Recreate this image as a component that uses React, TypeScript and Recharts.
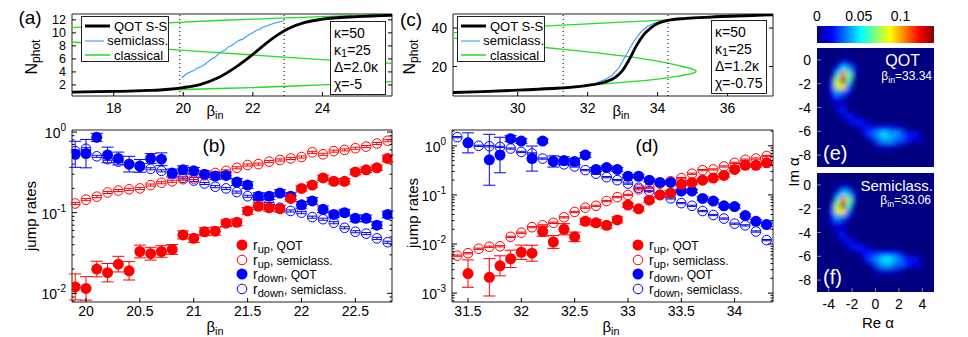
import React from 'react';
import {
  ComposedChart,
  Line,
  XAxis,
  YAxis,
  ReferenceLine,
  ReferenceArea,
  ScatterChart,
  Scatter,
  ErrorBar,
  BarChart,
  Bar,
} from 'recharts';

const FONT = '"Liberation Sans", Arial, Helvetica, sans-serif';
const RED = '#ff0000';
const BLUE = '#0000ff';
const GREEN = '#22dd22';
const SEMI = '#3399ff';

// ---- panel (a): photon number vs beta_in, kappa=50, Delta=2.0kappa
const A_QOT_X = [16.8, 18, 19, 19.5, 20, 20.5, 21, 21.5, 22, 22.5, 23, 23.5, 24, 25, 26];
const A_QOT_Y = [0.9, 1.0, 1.15, 1.3, 1.6, 2.1, 3.1, 4.7, 6.7, 8.9, 10.6, 11.6, 12.1, 12.5, 12.7];
const A_SEMI_X = [19.95, 20.0, 20.1, 20.2, 20.3, 20.4, 20.5, 20.6, 20.7, 20.8, 20.9, 21.0, 21.1, 21.2, 21.3, 21.4, 21.5, 21.6, 21.7, 21.8, 21.9, 22.0, 22.1, 22.2, 22.3, 22.4, 22.5, 22.6, 22.7, 22.8, 22.9];
const A_SEMI_Y = [3.1, 3.3, 3.75, 4.0, 4.2, 4.55, 4.8, 5.1, 5.5, 5.95, 6.2, 6.7, 7.1, 7.35, 7.85, 8.1, 8.5, 8.85, 9.0, 9.4, 9.75, 10.0, 10.4, 10.55, 10.9, 11.05, 11.3, 11.45, 11.6, 11.75, 11.85];
const A_CL_X = [16.8, 18, 19, 20, 21, 22, 23, 24, 25, 26];
const A_CL_UP = [10.8, 11.15, 11.4, 11.65, 11.9, 12.1, 12.3, 12.5, 12.7, 12.85];
const A_CL_MID = [8.6, 8.1, 7.7, 7.3, 6.95, 6.6, 6.25, 5.9, 5.6, 5.3];
const A_CL_LOW = [0.95, 1.1, 1.2, 1.3, 1.45, 1.6, 1.8, 2.0, 2.25, 2.5];
const A_DOTTED = [19.9, 22.9];

// ---- panel (c): kappa=50, Delta=1.2kappa
const C_QOT_X = [28.15, 29, 30, 31, 31.5, 32, 32.5, 32.8, 33.0, 33.2, 33.4, 33.6, 33.8, 34.0, 34.3, 34.8, 35.5, 36.5, 37.3];
const C_QOT_Y = [6.5, 7.0, 7.7, 8.6, 9.2, 10.2, 12.0, 14.5, 18, 24, 31, 36.5, 40, 42.3, 44, 45, 45.7, 46.4, 46.9];
const C_SEMI_X = [31.3, 31.8, 32.2, 32.5, 32.7, 32.9, 33.1, 33.3, 33.5, 33.7, 33.9, 34.1, 34.3];
const C_SEMI_Y = [9.0, 9.8, 11.2, 13.2, 15.5, 19.5, 26, 32.5, 37.5, 40.8, 42.5, 43.5, 44.2];
const C_CL_UP_X = [28.15, 29, 30, 31, 32, 33, 34, 35, 36, 37.3];
const C_CL_UP_Y = [37.5, 39.0, 40.3, 41.3, 42.2, 43.1, 44.0, 44.9, 45.8, 46.9];
// middle (unstable) branch through the turning point back to the lower branch
const C_CL_S_X = [28.15, 29, 30, 31, 32, 33, 34, 34.6, 35.0, 35.1, 35.0, 34.6, 34, 33, 32, 31, 30, 29, 28.15];
const C_CL_S_Y = [34.8, 33.0, 31.3, 29.5, 27.6, 25.5, 22.8, 20.5, 18.7, 17.5, 16.4, 15.0, 13.5, 11.8, 10.3, 9.0, 7.9, 7.0, 6.3];
const C_DOTTED = [31.3, 34.3];

// ---- panel (b): jump rates
const B_X = [19.9, 20.0, 20.1, 20.2, 20.3, 20.4, 20.5, 20.6, 20.7, 20.8, 20.9, 21.0, 21.1, 21.2, 21.3, 21.4, 21.5, 21.6, 21.7, 21.8, 21.9, 22.0, 22.1, 22.2, 22.3, 22.4, 22.5, 22.6, 22.7, 22.8];
const B_UP_QOT = [0.012, 0.0115, 0.02, 0.018, 0.023, 0.019, 0.033, 0.031, 0.033, 0.035, 0.053, 0.048, 0.058, 0.059, 0.074, 0.076, 0.105, 0.12, 0.115, 0.112, 0.15, 0.2, 0.22, 0.27, 0.245, 0.245, 0.32, 0.34, 0.36, 0.47];
const B_UP_QOT_ERR = [1.45, 1.4, 1.25, 1.3, 1.25, 1.3, 1.2, 1.2, 1.18, 1.15, 1.12, 1.12, 1.12, 1.12, 1.1, 1.1, 1.1, 1.1, 1.1, 1.1, 1.08, 1.08, 1.08, 1.08, 1.08, 1.08, 1.08, 1.08, 1.08, 1.1];
const B_UP_SEMI = [0.13, 0.145, 0.158, 0.178, 0.188, 0.195, 0.2, 0.22, 0.235, 0.245, 0.26, 0.265, 0.29, 0.31, 0.33, 0.36, 0.39, 0.4, 0.43, 0.45, 0.47, 0.49, 0.56, 0.53, 0.58, 0.6, 0.63, 0.66, 0.72, 0.78];
const B_DOWN_QOT = [0.53, 0.54, 0.86, 0.52, 0.47, 0.4, 0.38, 0.47, 0.46, 0.31, 0.34, 0.33, 0.3, 0.285, 0.29, 0.24, 0.22, 0.16, 0.16, 0.175, 0.16, 0.125, 0.14, 0.11, 0.095, 0.1, 0.085, 0.085, 0.07, 0.095];
const B_DOWN_QOT_ERR = [1.45, 1.5, 1.12, 1.25, 1.2, 1.25, 1.2, 1.15, 1.2, 1.12, 1.12, 1.1, 1.1, 1.1, 1.1, 1.1, 1.1, 1.1, 1.1, 1.1, 1.1, 1.1, 1.1, 1.1, 1.1, 1.1, 1.1, 1.1, 1.1, 1.1];
const B_DOWN_SEMI = [0.58, 0.62, 0.5, 0.46, 0.43, 0.4, 0.37, 0.35, 0.33, 0.3, 0.27, 0.25, 0.23, 0.21, 0.2, 0.18, 0.16, 0.145, 0.13, 0.115, 0.105, 0.1, 0.088, 0.083, 0.075, 0.065, 0.058, 0.055, 0.048, 0.043];

// ---- panel (d): jump rates
const D_X = [31.4, 31.5, 31.6, 31.7, 31.8, 31.9, 32.0, 32.1, 32.2, 32.3, 32.4, 32.5, 32.6, 32.7, 32.8, 32.9, 33.0, 33.1, 33.2, 33.3, 33.4, 33.5, 33.6, 33.7, 33.8, 33.9, 34.0, 34.1, 34.2, 34.3];
const D_UP_QOT = [null, 0.0025, null, 0.0021, 0.0036, 0.005, 0.0068, 0.0065, 0.018, 0.011, 0.02, 0.014, 0.029, 0.027, 0.024, 0.031, 0.062, 0.052, 0.078, 0.1, 0.11, 0.165, 0.18, 0.2, 0.22, 0.25, 0.33, 0.4, 0.4, 0.45];
const D_UP_QOT_ERR = [1, 1.9, 1, 2.4, 1.6, 1.5, 1.4, 1.45, 1.25, 1.35, 1.3, 1.25, 1.15, 1.15, 1.15, 1.15, 1.1, 1.1, 1.1, 1.1, 1.1, 1.08, 1.08, 1.08, 1.08, 1.08, 1.08, 1.08, 1.08, 1.08];
const D_UP_SEMI = [0.0058, 0.0065, 0.008, 0.0088, 0.009, 0.014, 0.017, 0.022, 0.024, 0.027, 0.035, 0.045, 0.055, 0.06, 0.075, 0.09, 0.1, 0.13, 0.14, 0.17, 0.19, 0.22, 0.27, 0.32, 0.33, 0.38, 0.45, 0.52, 0.55, 0.62];
const D_DOWN_QOT = [null, 1.15, null, 0.52, 0.65, 1.4, 1.25, 0.55, 1.25, 0.48, 0.5, 0.48, 0.65, 0.33, 0.36, 0.33, 0.24, 0.24, 0.2, 0.18, 0.18, 0.12, 0.12, 0.085, 0.075, 0.06, 0.058, 0.038, 0.029, 0.025];
const D_DOWN_QOT_ERR = [1, 1.6, 1, 3.3, 2.3, 1.15, 1.12, 1.8, 1.1, 1.3, 1.2, 1.15, 1.12, 1.1, 1.1, 1.1, 1.08, 1.08, 1.08, 1.08, 1.08, 1.08, 1.08, 1.08, 1.08, 1.08, 1.08, 1.08, 1.08, 1.08];
const D_DOWN_SEMI = [1.5, 1.15, 1.0, 0.98, 0.95, 0.88, 0.75, 0.7, 0.55, 0.5, 0.42, 0.38, 0.32, 0.27, 0.23, 0.2, 0.17, 0.14, 0.12, 0.1, 0.085, 0.068, 0.06, 0.047, 0.039, 0.033, 0.026, 0.024, 0.018, 0.012];
const SEMI_ERR = 1.03;

const B_TICKS_X = [20, 20.5, 21, 21.5, 22, 22.5];
const D_TICKS_X = [31.5, 32, 32.5, 33, 33.5, 34];
const B_TICKS_Y = [0.008, 0.009, 0.01, 0.02, 0.03, 0.04, 0.05, 0.06, 0.07, 0.08, 0.09, 0.1, 0.2, 0.3, 0.4, 0.5, 0.6, 0.7, 0.8, 0.9, 1];
const D_TICKS_Y = [0.0007, 0.0008, 0.0009, 0.001, 0.002, 0.003, 0.004, 0.005, 0.006, 0.007, 0.008, 0.009, 0.01, 0.02, 0.03, 0.04, 0.05, 0.06, 0.07, 0.08, 0.09, 0.1, 0.2, 0.3, 0.4, 0.5, 0.6, 0.7, 0.8, 0.9, 1, 2];

// ---- panels (e), (f): phase-space density, one char per 0.5x0.5 cell, value = char(base36)/100
const RE_CENTERS = [-4.75, -4.25, -3.75, -3.25, -2.75, -2.25, -1.75, -1.25, -0.75, -0.25, 0.25, 0.75, 1.25, 1.75, 2.25, 2.75, 3.25, 3.75, 4.25, 4.75];
const IM_CENTERS = [0.75, 0.25, -0.25, -0.75, -1.25, -1.75, -2.25, -2.75, -3.25, -3.75, -4.25, -4.75, -5.25, -5.75, -6.25, -6.75, -7.25, -7.75, -8.25, -8.75];
const MAP_QOT = [
  '00000000000000000000',
  '00000000000000000000',
  '00002100000000000000',
  '00025410000000000000',
  '0005b710000000000000',
  '0018e600000000000000',
  '00289300000000000000',
  '00143100000000000000',
  '00121000000000000000',
  '00011000000000000000',
  '00012000000000000000',
  '00001210000000000000',
  '00000122100000000000',
  '00000001222221100000',
  '00000000234544322100',
  '00000000013443321100',
  '00000000001111000000',
  '00000000000000000000',
  '00000000000000000000',
  '00000000000000000000',
];
const MAP_SEMI = [
  '00000000000000000000',
  '00000000000000000000',
  '00002100000000000000',
  '00025410000000000000',
  '0005b710000000000000',
  '0018e600000000000000',
  '00289300000000000000',
  '00143100000000000000',
  '00121000000000000000',
  '00011000000000000000',
  '00012000000000000000',
  '00001210000000000000',
  '00000122100000000000',
  '00000001222222100000',
  '00000000234554322100',
  '00000000013443321100',
  '00000000001111000000',
  '00000000000000000000',
  '00000000000000000000',
  '00000000000000000000',
];
const CBAR_MAX = 0.14;
const CBAR_TICKS = [0, 0.05, 0.1];
const MAP_TICKS_Y = [0, -2, -4, -6, -8];
const MAP_TICKS_X = [-4, -2, 0, 2, 4];

type Pt = { x: number; y: number };
const toPts = (xs: number[], ys: number[]): Pt[] => xs.map((x, i) => ({ x, y: ys[i] }));
const withErr = (xs: number[], ys: (number | null)[], f: number[] | number) =>
  xs
    .map((x, i) => ({ x, y: ys[i], f: Array.isArray(f) ? f[i] : f }))
    .filter((p) => p.y != null)
    .map((p) => ({ x: p.x, y: p.y as number, err: [(p.y as number) - (p.y as number) / p.f, (p.y as number) * p.f - (p.y as number)] }));

const jet = (t: number) => {
  const c = (v: number) => Math.round(255 * Math.max(0, Math.min(1, v)));
  return `rgb(${c(1.5 - Math.abs(4 * t - 3))},${c(1.5 - Math.abs(4 * t - 2))},${c(1.5 - Math.abs(4 * t - 1))})`;
};
const cells = (rows: string[]) =>
  rows.flatMap((row, j) =>
    row.split('').map((ch, i) => ({ x: RE_CENTERS[i], y: IM_CENTERS[j], v: parseInt(ch, 36) / 100 })),
  ).filter((c) => c.v > 0);

// ---- ticks (matlab style: pointing inward)
const fmtNum = (v: number) => String(v);
const isDecade = (v: number) => Math.abs(Math.log10(v) - Math.round(Math.log10(v))) < 1e-6;

const bottomTick = (tm: number, fmt: ((v: number) => string) | null, color = '#000') => (p: any) => (
  <g>
    <line x1={p.x} x2={p.x} y1={p.y - tm} y2={p.y - tm - 4} stroke={color} />
    {fmt && (
      <text x={p.x} y={p.y + 11} textAnchor="middle" fontSize={14} fontFamily={FONT} fill="#000">
        {fmt(p.payload.value)}
      </text>
    )}
  </g>
);
const topTick = (p: any) => <line x1={p.x} x2={p.x} y1={p.y} y2={p.y + 4} stroke="#000" />;
const leftTick = (tm: number, fmt: (v: number) => string, color = '#000', fs = 14) => (p: any) => (
  <g>
    <line x1={p.x + tm} x2={p.x + tm + 4} y1={p.y} y2={p.y} stroke={color} />
    <text x={p.x} y={p.y + fs * 0.36} textAnchor="end" fontSize={fs} fontFamily={FONT} fill="#000">
      {fmt(p.payload.value)}
    </text>
  </g>
);
const rightTick = (p: any) => <line x1={p.x} x2={p.x - 4} y1={p.y} y2={p.y} stroke="#000" />;
const logLeftTick = (tm: number) => (p: any) => {
  const v = p.payload.value;
  const dec = isDecade(v);
  return (
    <g>
      <line x1={p.x + tm} x2={p.x + tm + (dec ? 5 : 2.5)} y1={p.y} y2={p.y} stroke="#000" />
      {dec && (
        <text x={p.x} y={p.y + 6} textAnchor="end" fontSize={14} fontFamily={FONT} fill="#000">
          10<tspan dy={-7} fontSize={10}>{Math.round(Math.log10(v))}</tspan>
        </text>
      )}
    </g>
  );
};
const logRightTick = (p: any) => (
  <line x1={p.x} x2={p.x - (isDecade(p.payload.value) ? 5 : 2.5)} y1={p.y} y2={p.y} stroke="#000" />
);

// ---- top panels
type TopProps = {
  left: number; yAxisW: number; marginRight: number;
  xDomain: [number, number]; yDomain: [number, number];
  xTicks: number[]; yTicks: number[]; yTickSize: number;
  qot: Pt[]; semi: Pt[]; classical: { pts: Pt[]; type: 'linear' | 'natural' }[]; dotted: number[];
};

const TopPanel = ({ left, yAxisW, marginRight, xDomain, yDomain, xTicks, yTicks, yTickSize, qot, semi, classical, dotted }: TopProps) => (
  <div style={{ position: 'absolute', left, top: 0 }}>
    <ComposedChart width={400} height={120} margin={{ top: 13, right: marginRight, bottom: 0, left: 0 }}>
      <XAxis xAxisId="b" type="number" dataKey="x" domain={xDomain} allowDataOverflow ticks={xTicks} interval={0}
        tickSize={0} tickMargin={6} axisLine={false} tickLine={false} height={24} tick={bottomTick(6, fmtNum)} />
      <XAxis xAxisId="t" orientation="top" type="number" domain={xDomain} allowDataOverflow ticks={xTicks} interval={0}
        tickSize={0} tickMargin={0} axisLine={false} tickLine={false} height={1} tick={topTick} />
      <YAxis yAxisId="l" type="number" domain={yDomain} allowDataOverflow ticks={yTicks} interval={0}
        tickSize={0} tickMargin={6} axisLine={false} tickLine={false} width={yAxisW} tick={leftTick(6, fmtNum, '#000', yTickSize)} />
      <YAxis yAxisId="r" orientation="right" type="number" domain={yDomain} allowDataOverflow ticks={yTicks} interval={0}
        tickSize={0} tickMargin={0} axisLine={false} tickLine={false} width={1} tick={rightTick} />
      {classical.map((c, i) => (
        <Line key={`cl-${i}`} xAxisId="b" yAxisId="l" data={c.pts} dataKey="y" type={c.type} stroke={GREEN}
          strokeWidth={1.3} dot={false} isAnimationActive={false} />
      ))}
      <Line xAxisId="b" yAxisId="l" data={semi} dataKey="y" type="linear" stroke={SEMI} strokeWidth={1.1} dot={false} isAnimationActive={false} />
      <Line xAxisId="b" yAxisId="l" data={qot} dataKey="y" type="monotone" stroke="#000" strokeWidth={2.8} dot={false} isAnimationActive={false} />
      {dotted.map((d) => (
        <ReferenceLine key={`dl-${d}`} xAxisId="b" yAxisId="l" x={d} stroke="#000" strokeDasharray="1 3" />
      ))}
      <ReferenceArea xAxisId="b" yAxisId="l" x1={xDomain[0]} x2={xDomain[1]} y1={yDomain[0]} y2={yDomain[1]}
        fill="none" stroke="#222" strokeWidth={1} ifOverflow="visible" />
    </ComposedChart>
  </div>
);

// ---- bottom panels
type RateSeries = { key: string; data: { x: number; y: number; err: number[] }[]; color: string; filled: boolean };
type RateProps = {
  left: number; yAxisW: number; marginRight: number;
  xDomain: [number, number]; yDomain: [number, number];
  xTicks: number[]; yTicks: number[]; series: RateSeries[];
};

const filledDot = (color: string) => (p: any) => <circle cx={p.cx} cy={p.cy} r={5.5} fill={color} stroke="none" />;
const openDot = (color: string) => (p: any) => <circle cx={p.cx} cy={p.cy} r={4.8} fill="none" stroke={color} strokeWidth={1} />;

const RatePanel = ({ left, yAxisW, marginRight, xDomain, yDomain, xTicks, yTicks, series }: RateProps) => (
  <div style={{ position: 'absolute', left, top: 120 }}>
    <ScatterChart width={400} height={217} margin={{ top: 9, right: marginRight, bottom: 0, left: 0 }}>
      <XAxis xAxisId="b" type="number" dataKey="x" domain={xDomain} allowDataOverflow ticks={xTicks} interval={0}
        tickSize={0} tickMargin={3} axisLine={false} tickLine={false} height={35} tick={bottomTick(3, fmtNum)} />
      <XAxis xAxisId="t" orientation="top" type="number" domain={xDomain} allowDataOverflow ticks={xTicks} interval={0}
        tickSize={0} tickMargin={0} axisLine={false} tickLine={false} height={1} tick={topTick} />
      <YAxis yAxisId="l" type="number" dataKey="y" scale="log" domain={yDomain} allowDataOverflow ticks={yTicks} interval={0}
        tickSize={0} tickMargin={6} axisLine={false} tickLine={false} width={yAxisW} tick={logLeftTick(6)} />
      <YAxis yAxisId="r" orientation="right" type="number" scale="log" domain={yDomain} allowDataOverflow ticks={yTicks} interval={0}
        tickSize={0} tickMargin={0} axisLine={false} tickLine={false} width={1} tick={logRightTick} />
      {series.map((s) => (
        <Scatter key={s.key} xAxisId="b" yAxisId="l" data={s.data} shape={s.filled ? filledDot(s.color) : openDot(s.color)} isAnimationActive={false}>
          <ErrorBar dataKey="err" direction="y" width={s.filled ? 6 : 4.5} stroke={s.color} strokeWidth={1} />
        </Scatter>
      ))}
      <ReferenceArea xAxisId="b" yAxisId="l" x1={xDomain[0]} x2={xDomain[1]} y1={yDomain[0]} y2={yDomain[1]}
        fill="none" stroke="#222" strokeWidth={1} ifOverflow="visible" />
    </ScatterChart>
  </div>
);

// ---- phase-space maps
const CELL_W = 117 / 20 + 0.5;
const CELL_H = 119 / 20 + 0.5;
const cellShape = (p: any) => (
  <rect x={p.cx - CELL_W / 2} y={p.cy - CELL_H / 2} width={CELL_W} height={CELL_H} fill={jet(p.payload.v / CBAR_MAX)} />
);

const MapPanel = ({ id, top, height, rows, showX }: { id: string; top: number; height: number; rows: string[]; showX: boolean }) => (
  <div style={{ position: 'absolute', left: 780, top }}>
    <ScatterChart width={160} height={height} margin={{ top: 8, right: 6, bottom: 0, left: 0 }}>
      <defs>
        <filter id={`blur-${id}`} x="-20%" y="-20%" width="140%" height="140%">
          <feGaussianBlur stdDeviation={2.9} />
        </filter>
      </defs>
      <XAxis type="number" dataKey="x" domain={[-5, 5]} allowDataOverflow ticks={MAP_TICKS_X} interval={0} hide={!showX}
        tickSize={0} tickMargin={6} axisLine={false} tickLine={false} height={showX ? 23 : 0} tick={bottomTick(6, fmtNum, '#888')} />
      <YAxis type="number" dataKey="y" domain={[-9, 1]} allowDataOverflow ticks={MAP_TICKS_Y} interval={0}
        tickSize={0} tickMargin={6} axisLine={false} tickLine={false} width={37} tick={leftTick(6, fmtNum, '#888')} />
      <ReferenceArea x1={-5} x2={5} y1={-9} y2={1} fill={jet(0)} fillOpacity={1} stroke="none" ifOverflow="visible" />
      <Scatter className={`heat-${id}`} data={cells(rows)} shape={cellShape} isAnimationActive={false} />
    </ScatterChart>
  </div>
);

const JET_STOPS = [0, 0.125, 0.375, 0.625, 0.875, 1];

const ColorBar = () => (
  <div style={{ position: 'absolute', left: 780, top: 0 }}>
    <BarChart width={160} height={45} layout="vertical" data={[{ name: 'c', v: CBAR_MAX }]}
      margin={{ top: 25, right: 6, bottom: 2, left: 37 }} barCategoryGap={0}>
      <defs>
        <linearGradient id="jetGrad" x1="0" y1="0" x2="1" y2="0">
          {JET_STOPS.map((s) => (
            <stop key={`js-${s}`} offset={s} stopColor={jet(s)} />
          ))}
        </linearGradient>
      </defs>
      <XAxis type="number" orientation="top" domain={[0, CBAR_MAX]} ticks={CBAR_TICKS} interval={0}
        tickSize={0} tickMargin={3} axisLine={false} tickLine={false} height={1}
        tick={(p: any) => (
          <text x={p.x} y={p.y - 2} textAnchor="middle" fontSize={14} fontFamily={FONT} fill="#000">{String(p.payload.value)}</text>
        )} />
      <YAxis type="category" dataKey="name" hide />
      <Bar dataKey="v" fill="url(#jetGrad)" isAnimationActive={false} />
    </BarChart>
  </div>
);

// ---- overlay text helpers
const abs = (x: number, y: number, extra: React.CSSProperties = {}): React.CSSProperties => ({
  position: 'absolute', left: x, top: y, whiteSpace: 'nowrap', lineHeight: 1, ...extra,
});
const Centered = ({ x, y, size, rotate, color = '#000', children }: { x: number; y: number; size: number; rotate?: boolean; color?: string; children: React.ReactNode }) => (
  <div style={abs(x, y, { fontSize: size, color, transform: `translate(-50%,-50%)${rotate ? ' rotate(-90deg)' : ''}` })}>{children}</div>
);
const BetaIn = () => (
  <span>β<sub style={{ fontSize: '0.72em', verticalAlign: '-0.35em' }}>in</sub></span>
);

const LineLegend = ({ x, y }: { x: number; y: number }) => {
  const rows = [
    { label: 'QOT S-S', color: '#000', w: 3 },
    { label: 'semiclass.', color: SEMI, w: 1.1 },
    { label: 'classical', color: GREEN, w: 1.5 },
  ];
  return (
    <div style={abs(x, y, { width: 88, height: 46, border: '1px solid #222', background: '#fff', boxSizing: 'border-box', padding: '2px 0 0 3px' })}>
      {rows.map((r) => (
        <div key={`ll-${r.label}`} style={{ display: 'flex', alignItems: 'center', height: 14.5, fontSize: 13 }}>
          <svg width={26} height={8}><line x1={0} x2={25} y1={4} y2={4} stroke={r.color} strokeWidth={r.w} /></svg>
          <span style={{ marginLeft: 3 }}>{r.label}</span>
        </div>
      ))}
    </div>
  );
};

const ParamBox = ({ x, y, w, delta, chi }: { x: number; y: number; w: number; delta: string; chi: string }) => (
  <div style={abs(x, y, { width: w, height: 74, border: '1px solid #222', background: '#fff', boxSizing: 'border-box', padding: '4px 0 0 3px', fontSize: 14 })}>
    <div style={{ height: 17 }}>κ=50</div>
    <div style={{ height: 17 }}>κ<sub style={{ fontSize: 11, verticalAlign: '-0.15em', lineHeight: 1 }}>1</sub>=25</div>
    <div style={{ height: 17 }}>Δ={delta}κ</div>
    <div style={{ height: 17 }}>χ={chi}</div>
  </div>
);

const RateLegend = ({ x, y }: { x: number; y: number }) => {
  const rows = [
    { sub: 'up', tail: 'QOT', color: RED, filled: true },
    { sub: 'up', tail: 'semiclass.', color: RED, filled: false },
    { sub: 'down', tail: 'QOT', color: BLUE, filled: true },
    { sub: 'down', tail: 'semiclass.', color: BLUE, filled: false },
  ];
  return (
    <div style={abs(x, y)}>
      {rows.map((r) => (
        <div key={`rl-${r.sub}-${r.tail}`} style={{ display: 'flex', alignItems: 'center', height: 14.5 }}>
          <svg width={12} height={12}>
            <circle cx={6} cy={6} r={r.filled ? 5.5 : 4.8} fill={r.filled ? r.color : 'none'} stroke={r.filled ? 'none' : r.color} />
          </svg>
          <span style={{ marginLeft: 5, fontSize: 14 }}>
            r<sub style={{ fontSize: 11, verticalAlign: '-0.3em', lineHeight: 0 }}>{r.sub}</sub>
            <span style={{ fontSize: 12 }}>, {r.tail}</span>
          </span>
        </div>
      ))}
    </div>
  );
};

export default function App() {
  const aClassical = [
    { pts: toPts(A_CL_X, A_CL_UP), type: 'linear' as const },
    { pts: toPts(A_CL_X, A_CL_MID), type: 'linear' as const },
    { pts: toPts(A_CL_X, A_CL_LOW), type: 'linear' as const },
  ];
  const cClassical = [
    { pts: toPts(C_CL_UP_X, C_CL_UP_Y), type: 'linear' as const },
    { pts: toPts(C_CL_S_X, C_CL_S_Y), type: 'natural' as const },
  ];
  const bSeries: RateSeries[] = [
    { key: 'bds', data: withErr(B_X, B_DOWN_SEMI, SEMI_ERR), color: BLUE, filled: false },
    { key: 'bus', data: withErr(B_X, B_UP_SEMI, SEMI_ERR), color: RED, filled: false },
    { key: 'bdq', data: withErr(B_X, B_DOWN_QOT, B_DOWN_QOT_ERR), color: BLUE, filled: true },
    { key: 'buq', data: withErr(B_X, B_UP_QOT, B_UP_QOT_ERR), color: RED, filled: true },
  ];
  const dSeries: RateSeries[] = [
    { key: 'dds', data: withErr(D_X, D_DOWN_SEMI, SEMI_ERR), color: BLUE, filled: false },
    { key: 'dus', data: withErr(D_X, D_UP_SEMI, SEMI_ERR), color: RED, filled: false },
    { key: 'ddq', data: withErr(D_X, D_DOWN_QOT, D_DOWN_QOT_ERR), color: BLUE, filled: true },
    { key: 'duq', data: withErr(D_X, D_UP_QOT, D_UP_QOT_ERR), color: RED, filled: true },
  ];

  return (
    <div style={{ position: 'absolute', left: 0, top: 0, width: 968, height: 337, background: '#fff', overflow: 'hidden', fontFamily: FONT, color: '#000' }}>
      <style>{'.heat-e { filter: url(#blur-e); } .heat-f { filter: url(#blur-f); }'}</style>

      <TopPanel left={0} yAxisW={72} marginRight={7} xDomain={[16.8, 26]} yDomain={[0.3, 12.9]}
        xTicks={[18, 20, 22, 24]} yTicks={[2, 4, 6, 8, 10, 12]} yTickSize={12.5}
        qot={toPts(A_QOT_X, A_QOT_Y)} semi={toPts(A_SEMI_X, A_SEMI_Y)} classical={aClassical} dotted={A_DOTTED} />
      <TopPanel left={380} yAxisW={73} marginRight={6} xDomain={[28.15, 37.3]} yDomain={[4.7, 47.3]}
        xTicks={[30, 32, 34, 36]} yTicks={[20, 40]} yTickSize={14}
        qot={toPts(C_QOT_X, C_QOT_Y)} semi={toPts(C_SEMI_X, C_SEMI_Y)} classical={cClassical} dotted={C_DOTTED} />

      <RatePanel left={0} yAxisW={72} marginRight={7} xDomain={[19.87, 22.84]} yDomain={[0.0078, 1.06]}
        xTicks={B_TICKS_X} yTicks={B_TICKS_Y} series={bSeries} />
      <RatePanel left={380} yAxisW={72} marginRight={6} xDomain={[31.35, 34.36]} yDomain={[0.00066, 2.1]}
        xTicks={D_TICKS_X} yTicks={D_TICKS_Y} series={dSeries} />

      <ColorBar />
      <MapPanel id="e" top={40} height={127} rows={MAP_QOT} showX={false} />
      <MapPanel id="f" top={165} height={150} rows={MAP_SEMI} showX={true} />

      {/* legends and annotations */}
      <LineLegend x={81} y={16} />
      <LineLegend x={457} y={16} />
      <ParamBox x={330} y={21} w={56} delta="2.0" chi="-5" />
      <ParamBox x={711} y={20} w={56} delta="1.2" chi="-0.75" />
      <RateLegend x={236} y={238} />
      <RateLegend x={632} y={238} />

      <Centered x={30} y={17} size={19}>(a)</Centered>
      <Centered x={411} y={19} size={19}>(c)</Centered>
      <Centered x={214} y={145} size={19}>(b)</Centered>
      <Centered x={647} y={145} size={19}>(d)</Centered>

      <Centered x={33} y={57} size={16} rotate>N<sub style={{ fontSize: 12, verticalAlign: '-0.3em' }}>phot</sub></Centered>
      <Centered x={411} y={57} size={16} rotate>N<sub style={{ fontSize: 12, verticalAlign: '-0.3em' }}>phot</sub></Centered>
      <Centered x={30} y={216} size={15} rotate>jump rates</Centered>
      <Centered x={412} y={213} size={15} rotate>jump rates</Centered>

      <Centered x={215} y={112} size={15}><BetaIn /></Centered>
      <Centered x={621} y={112} size={15}><BetaIn /></Centered>
      <Centered x={215} y={328} size={15}><BetaIn /></Centered>
      <Centered x={611} y={328} size={15}><BetaIn /></Centered>

      <Centered x={793} y={172} size={15} rotate>Im α</Centered>
      <Centered x={878} y={322} size={15}>Re α</Centered>

      <div style={abs(820, 53, { width: 100, textAlign: 'right', color: '#fff', fontSize: 16 })}>QOT</div>
      <div style={abs(830, 70, { width: 102, textAlign: 'right', color: '#fff', fontSize: 12 })}><BetaIn />=33.34</div>
      <div style={abs(823, 143, { color: '#fff', fontSize: 20 })}>(e)</div>
      <div style={abs(820, 178, { width: 113, textAlign: 'right', color: '#fff', fontSize: 15 })}>Semiclass.</div>
      <div style={abs(830, 194, { width: 101, textAlign: 'right', color: '#fff', fontSize: 12 })}><BetaIn />=33.06</div>
      <div style={abs(823, 267, { color: '#fff', fontSize: 20 })}>(f)</div>
    </div>
  );
}
